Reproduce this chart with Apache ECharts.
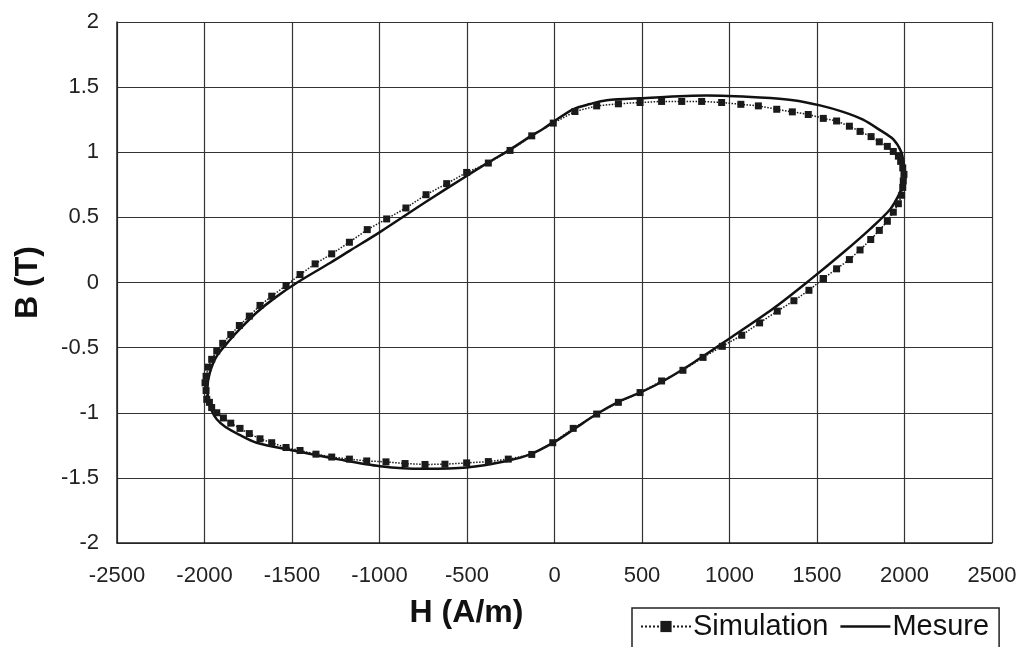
<!DOCTYPE html>
<html>
<head>
<meta charset="utf-8">
<script src="https://cdn.jsdelivr.net/npm/echarts@6/dist/echarts.min.js"></script>
<style>
  html, body { margin: 0; padding: 0; background: #fff; }
  #chart { width: 1022px; height: 647px; }
</style>
</head>
<body>
<div id="chart"></div>
<script>
// Axis ticks
const hTicks = [-2500, 2500, 500];
const bTicks = [-2, 2, 0.5];

// Mesure (solid curve), H in A/m, B in T
const mesH = [2005, 1995, 1982, 1935, 1860, 1763, 1649, 1517, 1364, 1174, 870, 489, 298, 203, 106, 0, -64, -140, -254, -380, -500, -734, -1000, -1169, -1283, -1470, -1600, -1702, -1800, -1854, -1930, -1969, -1983, -1978, -1960, -1930, -1880, -1800, -1702, -1493, -1226, -997, -750, -502, -273, -140, -7, 107, 241, 374, 489, 622, 800, 1000, 1250, 1460, 1650, 1803, 1917, 1974, 2005];
const mesB = [0.80, 0.91, 1.00, 1.10, 1.17, 1.25, 1.31, 1.36, 1.40, 1.42, 1.435, 1.415, 1.40, 1.37, 1.33, 1.24, 1.18, 1.12, 1.02, 0.92, 0.82, 0.62, 0.385, 0.245, 0.15, 0.0, -0.12, -0.23, -0.36, -0.44, -0.565, -0.69, -0.80, -0.90, -0.98, -1.05, -1.11, -1.17, -1.23, -1.29, -1.36, -1.41, -1.43, -1.42, -1.37, -1.32, -1.23, -1.13, -1.01, -0.91, -0.845, -0.756, -0.61, -0.43, -0.20, 0.02, 0.23, 0.41, 0.56, 0.69, 0.80];

// Simulation (dotted line with square markers)
const simH = [1536, 1612, 1685, 1746, 1807, 1856, 1902, 1936, 1965, 1984, 1990, 1993, 1997, 1990, 1978, 1965, 1936, 1902, 1856, 1809, 1746, 1685, 1612, 1536, 1450, 1359, 1270, 1165, 1065, 955, 841, 727, 612, 489, 365, 241, 117, -7, -130, -254, -378, -502, -616, -734, -849, -959, -1070, -1172, -1273, -1368, -1454, -1534, -1616, -1683, -1744, -1801, -1850, -1896, -1930, -1959, -1978, -1991, -1997, -1991, -1987, -1972, -1959, -1930, -1892, -1850, -1797, -1744, -1683, -1616, -1534, -1454, -1363, -1273, -1172, -1073, -963, -854, -740, -626, -502, -378, -264, -130, -10, 107, 241, 365, 489, 612, 734, 849, 959, 1070, 1172, 1273, 1368, 1454, 1536];
const simB = [0.03, 0.105, 0.176, 0.25, 0.33, 0.40, 0.47, 0.54, 0.605, 0.67, 0.73, 0.78, 0.83, 0.88, 0.93, 0.97, 1.006, 1.045, 1.08, 1.12, 1.16, 1.20, 1.24, 1.26, 1.29, 1.31, 1.33, 1.356, 1.368, 1.382, 1.39, 1.39, 1.39, 1.382, 1.372, 1.356, 1.313, 1.224, 1.126, 1.014, 0.917, 0.845, 0.759, 0.674, 0.572, 0.488, 0.406, 0.309, 0.22, 0.143, 0.061, -0.023, -0.105, -0.176, -0.258, -0.33, -0.40, -0.467, -0.526, -0.59, -0.65, -0.72, -0.77, -0.83, -0.897, -0.92, -0.96, -1.0, -1.04, -1.08, -1.12, -1.16, -1.20, -1.23, -1.267, -1.29, -1.318, -1.34, -1.356, -1.37, -1.377, -1.39, -1.397, -1.395, -1.385, -1.375, -1.356, -1.32, -1.23, -1.12, -1.01, -0.92, -0.845, -0.756, -0.674, -0.575, -0.49, -0.405, -0.31, -0.22, -0.14, -0.06, 0.03];

const zip = (xs, ys) => xs.map((x, i) => [x, ys[i]]);

const chart = echarts.init(document.getElementById('chart'));
const font = "'Liberation Sans', Arial, Helvetica, sans-serif";

const option = {
  backgroundColor: '#fff',
  animation: false,
  textStyle: { fontFamily: font },
  grid: { left: 117, right: 30, top: 22, bottom: 104 },
  legend: {
    left: 632,
    top: 608,
    padding: [4, 10, 8, 8],
    itemWidth: 50,
    itemHeight: 14,
    itemGap: 12,
    borderColor: '#222',
    borderWidth: 1.5,
    borderRadius: 0,
    textStyle: { fontSize: 29, color: '#111', fontFamily: font, padding: [0, 0, 0, -3] },
    data: [
      { name: 'Simulation' },
      { name: 'Mesure', icon: 'path://M0,0 L50,0 L50,2.6 L0,2.6 Z' }
    ]
  },
  xAxis: {
    type: 'value',
    min: hTicks[0],
    max: hTicks[1],
    interval: hTicks[2],
    name: 'H (A/m)',
    nameLocation: 'middle',
    nameGap: 54,
    nameTextStyle: { fontSize: 32, fontWeight: 'bold', color: '#111', padding: [0, 176, 0, 0] },
    axisLine: { onZero: false, lineStyle: { color: '#222', width: 1.5 } },
    axisTick: { show: false },
    axisLabel: { fontSize: 22, color: '#222', margin: 22, formatter: v => String(v) },
    splitLine: { show: true, lineStyle: { color: '#333', width: 1.2 } }
  },
  yAxis: {
    type: 'value',
    min: bTicks[0],
    max: bTicks[1],
    interval: bTicks[2],
    name: 'B (T)',
    nameLocation: 'middle',
    nameRotate: 90,
    nameGap: 73,
    nameTextStyle: { fontSize: 32, fontWeight: 'bold', color: '#111' },
    axisLine: { onZero: false, lineStyle: { color: '#222', width: 1.5 } },
    axisTick: { show: false },
    axisLabel: { fontSize: 22, color: '#222', margin: 18, formatter: v => String(v) },
    splitLine: { show: true, lineStyle: { color: '#333', width: 1.2 } }
  },
  series: [
    {
      name: 'Simulation',
      type: 'line',
      data: zip(simH, simB),
      symbol: 'rect',
      symbolSize: 7,
      itemStyle: { color: '#1a1a1a' },
      lineStyle: { color: '#1a1a1a', width: 1.5, type: 'dotted' },
      z: 3
    },
    {
      name: 'Mesure',
      type: 'line',
      data: zip(mesH, mesB),
      symbol: 'none',
      smooth: 0.3,
      itemStyle: { color: '#111' },
      lineStyle: { color: '#111', width: 2.5 },
      z: 2
    }
  ]
};

chart.setOption(option);
</script>
</body>
</html>
